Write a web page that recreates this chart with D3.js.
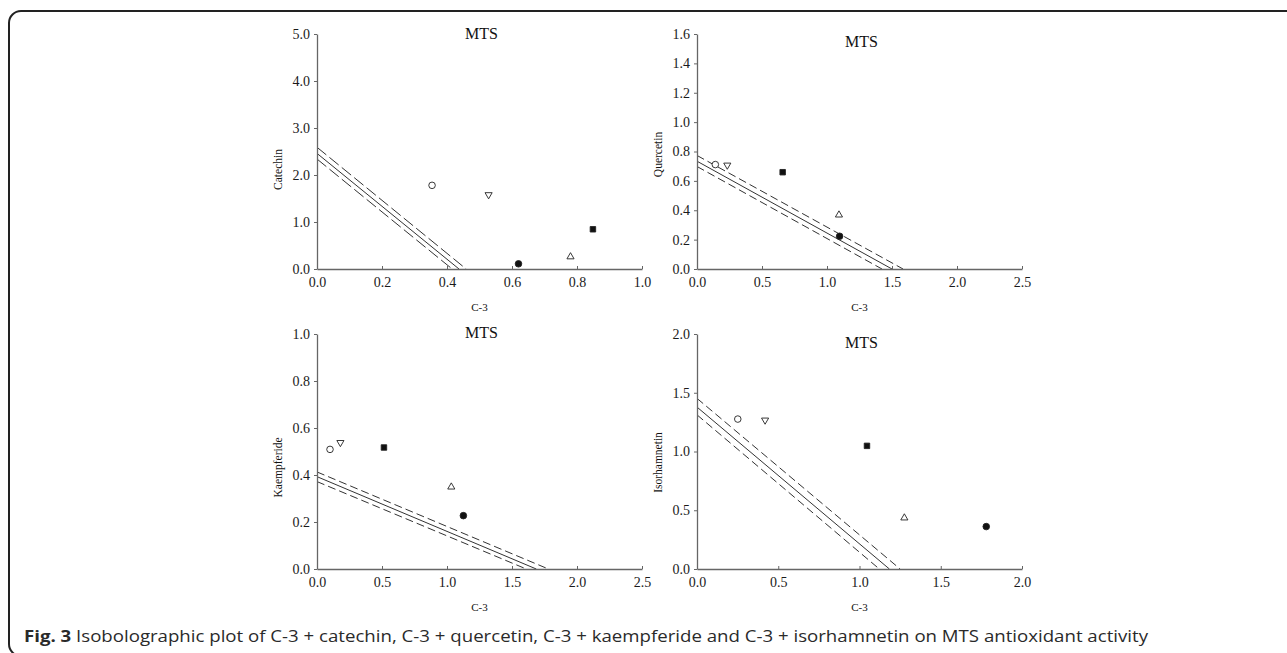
<!DOCTYPE html>
<html>
<head>
<meta charset="utf-8">
<script src="https://cdn.jsdelivr.net/npm/d3@7"></script>
<style>
  body { margin: 0; background: #fff; }
  svg { display: block; }
</style>
</head>
<body>
<div id="chart"></div>
<script>
// marker order used in every panel
const symbolKinds = ["circleOpen", "triangleDownOpen", "squareFilled", "triangleUpOpen", "circleFilled"];

// C-3 + catechin
const catechinX = [0.354, 0.528, 0.849, 0.780, 0.620];
const catechinY = [1.78, 1.58, 0.845, 0.26, 0.11];
// [y intercept, x intercept] : solid, upper dashed, lower dashed
const catechinLines = [[2.46, 0.437], [2.59, 0.459], [2.34, 0.416]];

// C-3 + quercetin
const quercetinX = [0.141, 0.233, 0.659, 1.092, 1.097];
const quercetinY = [0.711, 0.707, 0.659, 0.368, 0.223];
const quercetinLines = [[0.734, 1.50], [0.773, 1.585], [0.698, 1.423]];

// C-3 + kaempferide
const kaempferideX = [0.10, 0.18, 0.515, 1.033, 1.126];
const kaempferideY = [0.509, 0.538, 0.517, 0.349, 0.227];
const kaempferideLines = [[0.393, 1.687], [0.413, 1.78], [0.372, 1.61]];

// C-3 + isorhamnetin
const isorhamnetinX = [0.251, 0.419, 1.046, 1.276, 1.78];
const isorhamnetinY = [1.276, 1.267, 1.048, 0.435, 0.361];
const isorhamnetinLines = [[1.378, 1.184], [1.452, 1.25], [1.312, 1.122]];

// tick labels
const catechinXTicks = [0, 0.2, 0.4, 0.6, 0.8, 1.0];
const catechinYTicks = [0, 1, 2, 3, 4, 5];
const quercetinXTicks = [0, 0.5, 1.0, 1.5, 2.0, 2.5];
const quercetinYTicks = [0, 0.2, 0.4, 0.6, 0.8, 1.0, 1.2, 1.4, 1.6];
const kaempferideXTicks = [0, 0.5, 1.0, 1.5, 2.0, 2.5];
const kaempferideYTicks = [0, 0.2, 0.4, 0.6, 0.8, 1.0];
const isorhamnetinXTicks = [0, 0.5, 1.0, 1.5, 2.0];
const isorhamnetinYTicks = [0, 0.5, 1.0, 1.5, 2.0];

const panelTitle = "MTS";
const xTitle = "C-3";
const captionBold = "Fig. 3";
const captionText = " Isobolographic plot of C-3 + catechin, C-3 + quercetin, C-3 + kaempferide and C-3 + isorhamnetin on MTS antioxidant activity";

const W = 1287, H = 653;
const plotW = 325, plotH = 235;
const serif = "'Liberation Serif', 'DejaVu Serif', serif";

const panels = [
  {left: 317, top: 34, xMax: 1.0, yMax: 5.0, xs: catechinX, ys: catechinY, lines: catechinLines,
   xTicks: catechinXTicks, yTicks: catechinYTicks, yLabel: "Catechin", dash: "12,4", titleY: 5, yLabelShift: 18},
  {left: 697, top: 34, xMax: 2.5, yMax: 1.6, xs: quercetinX, ys: quercetinY, lines: quercetinLines,
   xTicks: quercetinXTicks, yTicks: quercetinYTicks, yLabel: "Quercetin", dash: "8,4", titleY: 13, yLabelShift: 3},
  {left: 317, top: 334, xMax: 2.5, yMax: 1.0, xs: kaempferideX, ys: kaempferideY, lines: kaempferideLines,
   xTicks: kaempferideXTicks, yTicks: kaempferideYTicks, yLabel: "Kaempferide", dash: "8,4", titleY: 4, yLabelShift: 16},
  {left: 697, top: 334, xMax: 2.0, yMax: 2.0, xs: isorhamnetinX, ys: isorhamnetinY, lines: isorhamnetinLines,
   xTicks: isorhamnetinXTicks, yTicks: isorhamnetinYTicks, yLabel: "Isorhamnetin", dash: "8,4", titleY: 14, yLabelShift: 11}
];

const svg = d3.select("#chart").append("svg")
  .attr("width", W).attr("height", H);

// rounded frame (right and bottom edges fall outside the picture)
svg.append("rect")
  .attr("x", 9).attr("y", 11)
  .attr("width", 1320).attr("height", 645)
  .attr("rx", 12).attr("ry", 12)
  .attr("fill", "none").attr("stroke", "#222").attr("stroke-width", 2);

const fmt = d3.format(".1f");

panels.forEach(p => {
  const g = svg.append("g").attr("transform", `translate(${p.left},${p.top})`);
  const x = d3.scaleLinear().domain([0, p.xMax]).range([0, plotW]);
  const y = d3.scaleLinear().domain([0, p.yMax]).range([plotH, 0]);

  // isobole lines
  const lineStyles = [null, p.dash, p.dash];
  p.lines.forEach((l, i) => {
    g.append("line")
      .attr("x1", x(0)).attr("y1", y(l[0]))
      .attr("x2", x(l[1])).attr("y2", y(0))
      .attr("stroke", "#333").attr("stroke-width", 1)
      .attr("stroke-dasharray", lineStyles[i]);
  });

  // axes
  const xAxis = d3.axisBottom(x).tickValues(p.xTicks).tickFormat(fmt).tickSize(-3).tickSizeOuter(0).tickPadding(8);
  const yAxis = d3.axisLeft(y).tickValues(p.yTicks).tickFormat(fmt).tickSize(3).tickSizeOuter(0).tickPadding(4);

  const xg = g.append("g").attr("transform", `translate(0,${plotH})`).call(xAxis);
  const yg = g.append("g").call(yAxis);
  [xg, yg].forEach(a => {
    a.attr("font-size", 14).attr("font-family", serif);
    a.select(".domain").attr("stroke", "#666").attr("stroke-width", 1.3);
    a.selectAll(".tick line").attr("stroke", "#666");
    a.selectAll(".tick text").attr("fill", "#1a1a1a");
  });

  // markers
  const sym = d3.symbol();
  p.xs.forEach((xv, i) => {
    const kind = symbolKinds[i];
    const cx = x(xv), cy = y(p.ys[i]);
    let shape, size, filled = kind.endsWith("Filled");
    if (kind.startsWith("circle")) { shape = d3.symbolCircle; size = 34; }
    else if (kind.startsWith("square")) { shape = d3.symbolSquare; size = 30; }
    else { shape = d3.symbolTriangle; size = 22; }
    const rot = kind.startsWith("triangleDown") ? 180 : 0;
    g.append("path")
      .attr("d", sym.type(shape).size(size)())
      .attr("transform", `translate(${cx},${cy}) rotate(${rot})`)
      .attr("fill", filled ? "#111" : "#fff")
      .attr("stroke", "#222").attr("stroke-width", 0.9);
  });

  // titles
  g.append("text")
    .attr("x", plotW / 2 + 2).attr("y", p.titleY)
    .attr("text-anchor", "middle")
    .style("font-family", serif).style("font-size", "16px").attr("fill", "#111")
    .text(panelTitle);

  g.append("text")
    .attr("x", plotW / 2).attr("y", plotH + 42)
    .attr("text-anchor", "middle")
    .style("font-family", serif).style("font-size", "11px").attr("fill", "#111")
    .text(xTitle);

  g.append("text")
    .attr("transform", `translate(-35,${plotH / 2 + p.yLabelShift}) rotate(-90)`)
    .attr("text-anchor", "middle")
    .style("font-family", serif).style("font-size", "11.5px").attr("fill", "#111")
    .text(p.yLabel);
});

// caption
const cap = svg.append("text")
  .attr("x", 24).attr("y", 642)
  .style("font-family", "'Open Sans', 'Noto Sans', sans-serif")
  .style("font-size", "16px").attr("fill", "#2a2a2a");
cap.append("tspan").style("font-weight", "bold").text(captionBold);
cap.append("tspan").text(captionText);
cap.attr("textLength", 1124).attr("lengthAdjust", "spacingAndGlyphs");
</script>
</body>
</html>
